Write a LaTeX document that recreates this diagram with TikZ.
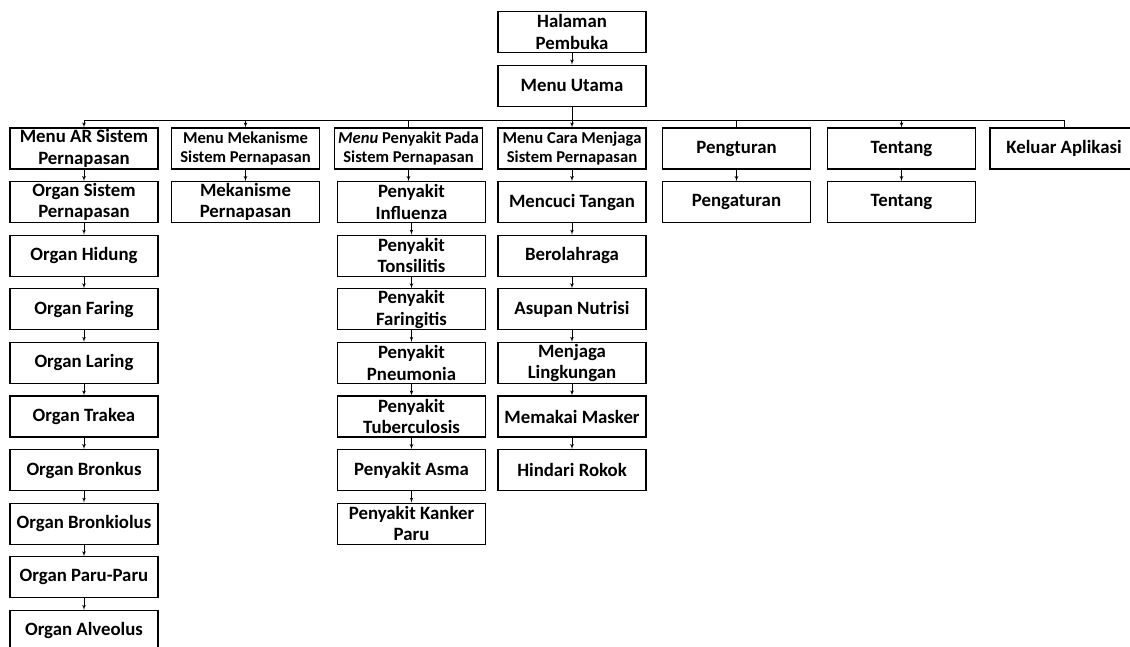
\documentclass[tikz,border=0pt]{standalone}
\usepackage{fontspec}
\setmainfont{Carlito}
\usetikzlibrary{arrows,positioning}

\begin{document}
\begin{tikzpicture}[auto,>=latex',x=1pt,y=-1pt,node distance=11.5pt]
	\tikzstyle{block} = [draw, rectangle, line width=1.1pt, minimum height=41pt, minimum width=148pt, inner sep=1pt, align=center, font=\fontsize{18.8}{21.5}\selectfont\bfseries]
	\tikzstyle{menusmall} = [font=\fontsize{16.6}{19.5}\selectfont\bfseries]
	\tikzstyle{conn} = [line width=0.7pt]
	
	\useasboundingbox (0,0) rectangle (1130,646);
	
	% atas
	\node [block] (halaman) at (572,32) {Halaman\\Pembuka};
	\node [block, below = of halaman] (utama) {Menu Utama};
	\coordinate (bus) at (572,120);
	
	% menu
	\node [block] (ar) at (84,148.5) {Menu AR Sistem\\Pernapasan};
	\node [block, menusmall] (mek) at (245.5,148.5) {Menu Mekanisme\\Sistem Pernapasan};
	\node [block, menusmall] (pmenu) at (408.5,148.5) {\textit{Menu} Penyakit Pada\\Sistem Pernapasan};
	\node [block, menusmall] (cara) at (572,148.5) {Menu Cara Menjaga\\Sistem Pernapasan};
	\node [block] (pengturan) at (736.5,148.5) {Pengturan};
	\node [block] (tentangm) at (901.5,148.5) {Tentang};
	\node [block] (keluar) at (1064,148.5) {Keluar Aplikasi};
	
	% organ
	\node [block, below = of ar] (organ) {Organ Sistem\\Pernapasan};
	\node [block, below = of organ] (hidung) {Organ Hidung};
	\node [block, below = of hidung] (faring) {Organ Faring};
	\node [block, below = of faring] (laring) {Organ Laring};
	\node [block, below = of laring] (trakea) {Organ Trakea};
	\node [block, below = of trakea] (bronkus) {Organ Bronkus};
	\node [block, below = of bronkus] (bronkiolus) {Organ Bronkiolus};
	\node [block, below = of bronkiolus] (paru) {Organ Paru-Paru};
	\node [block, below = of paru] (alveolus) {Organ Alveolus};
	
	\node [block, below = of mek] (mekanisme) {Mekanisme\\Pernapasan};
	
	% penyakit
	\node [block, below = of pmenu, xshift=3pt] (influenza) {Penyakit\\Influenza};
	\node [block, below = of influenza] (tonsilitis) {Penyakit\\Tonsilitis};
	\node [block, below = of tonsilitis] (faringitis) {Penyakit\\Faringitis};
	\node [block, below = of faringitis] (pneumonia) {Penyakit\\Pneumonia};
	\node [block, below = of pneumonia] (tbc) {Penyakit\\Tuberculosis};
	\node [block, below = of tbc] (asma) {Penyakit Asma};
	\node [block, below = of asma] (kanker) {Penyakit Kanker\\Paru};
	
	% menjaga
	\node [block, below = of cara] (mencuci) {Mencuci Tangan};
	\node [block, below = of mencuci] (olahraga) {Berolahraga};
	\node [block, below = of olahraga] (nutrisi) {Asupan Nutrisi};
	\node [block, below = of nutrisi] (lingkungan) {Menjaga\\Lingkungan};
	\node [block, below = of lingkungan] (masker) {Memakai Masker};
	\node [block, below = of masker] (rokok) {Hindari Rokok};
	
	\node [block, below = of pengturan] (pengaturan) {Pengaturan};
	\node [block, below = of tentangm] (tentang) {Tentang};
	
	\draw [conn, ->] (halaman) -- (utama);
	\draw [conn, ->] (utama) -- (cara);
	\draw [conn, ->] (bus) -| (ar);
	\draw [conn, ->] (bus) -| (mek);
	\draw [conn] (bus) -| (pmenu);
	\draw [conn] (bus) -| (pengturan);
	\draw [conn, ->] (bus) -| (tentangm);
	\draw [conn] (bus) -| (keluar);
	
	\draw [conn, ->] (ar) -- (organ);
	\draw [conn, ->] (organ) -- (hidung);
	\draw [conn, ->] (hidung) -- (faring);
	\draw [conn, ->] (faring) -- (laring);
	\draw [conn, ->] (laring) -- (trakea);
	\draw [conn, ->] (trakea) -- (bronkus);
	\draw [conn, ->] (bronkus) -- (bronkiolus);
	\draw [conn, ->] (bronkiolus) -- (paru);
	\draw [conn, ->] (paru) -- (alveolus);
	
	\draw [conn, ->] (mek) -- (mekanisme);
	
	\draw [conn, ->] (pmenu.south) -- (influenza.north -| pmenu.south);
	\draw [conn, ->] (influenza) -- (tonsilitis);
	\draw [conn, ->] (tonsilitis) -- (faringitis);
	\draw [conn, ->] (faringitis) -- (pneumonia);
	\draw [conn, ->] (pneumonia) -- (tbc);
	\draw [conn, ->] (tbc) -- (asma);
	\draw [conn, ->] (asma) -- (kanker);
	
	\draw [conn, ->] (cara) -- (mencuci);
	\draw [conn, ->] (mencuci) -- (olahraga);
	\draw [conn, ->] (olahraga) -- (nutrisi);
	\draw [conn, ->] (nutrisi) -- (lingkungan);
	\draw [conn, ->] (lingkungan) -- (masker);
	\draw [conn, ->] (masker) -- (rokok);
	
	\draw [conn, ->] (pengturan) -- (pengaturan);
	\draw [conn, ->] (tentangm) -- (tentang);
\end{tikzpicture}
\end{document}
